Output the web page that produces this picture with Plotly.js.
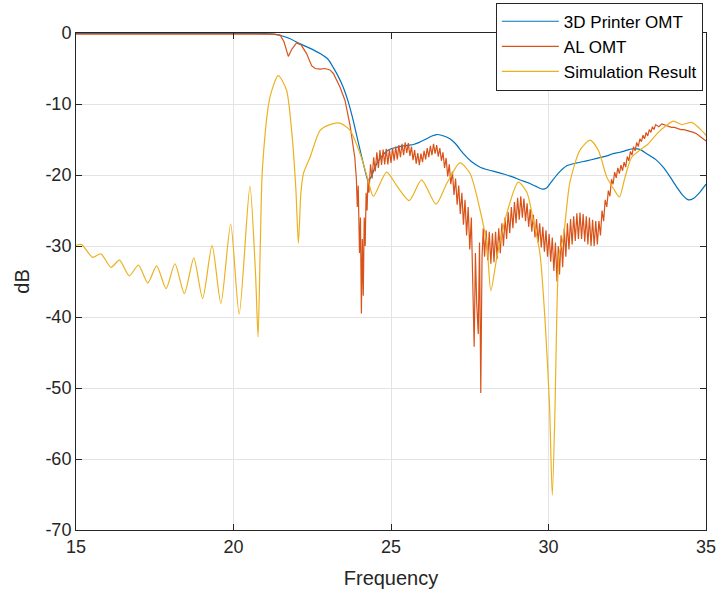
<!DOCTYPE html>
<html>
<head>
<meta charset="utf-8">
<script src="https://cdn.plot.ly/plotly-3.0.1.min.js"></script>
<style>
  html, body { margin: 0; padding: 0; background: #ffffff; }
  #chart { width: 719px; height: 594px; }
</style>
</head>
<body>
<div id="chart"></div>
<script>
// Measured return loss of the two OMT builds and the simulated response (dB vs frequency).
const seriesNames = ['3D Printer OMT', 'AL OMT', 'Simulation Result'];

const printerFreq = [15, 16, 17, 18, 19, 20, 20.5, 21, 21.3, 21.5, 21.8, 22.1, 22.4, 22.75, 23.0, 23.16, 23.3, 23.48, 23.65, 23.8, 23.95, 24.1, 24.2, 24.27, 24.39, 24.49, 24.65, 24.85, 25.0, 25.18, 25.4, 25.71, 25.9, 26.13, 26.3, 26.45, 26.6, 26.87, 27.05, 27.3, 27.55, 27.83, 28.1, 28.36, 28.6, 28.88, 29.1, 29.41, 29.6, 29.8, 29.95, 30.05, 30.3, 30.58, 30.9, 31.21, 31.5, 31.85, 32.05, 32.27, 32.5, 32.69, 32.9, 33.12, 33.4, 33.64, 33.85, 34.07, 34.25, 34.44, 34.6, 34.81, 35];
const printerDb = [-0.05, -0.05, -0.05, -0.05, -0.05, -0.05, -0.06, -0.1, -0.2, -0.35, -0.8, -1.5, -2.1, -2.9, -3.7, -4.8, -5.9, -7.6, -9.8, -12.3, -15.2, -18.0, -19.8, -20.8, -20.1, -18.9, -17.7, -16.7, -16.3, -16.1, -15.9, -15.7, -15.4, -14.9, -14.5, -14.3, -14.4, -14.9, -15.6, -17.0, -18.1, -18.9, -19.3, -19.6, -19.9, -20.3, -20.7, -21.2, -21.6, -22.0, -21.8, -21.2, -19.8, -18.7, -18.3, -18.0, -17.7, -17.3, -17.0, -16.8, -16.5, -16.3, -16.4, -17.0, -17.8, -18.9, -20.2, -21.7, -22.8, -23.5, -23.3, -22.4, -21.3];

const alFreq = [15, 17, 19, 20.5, 21.3, 21.48, 21.6, 21.74, 21.85, 22.0, 22.15, 22.32, 22.48, 22.59, 22.75, 22.9, 23.06, 23.17, 23.38, 23.54, 23.7, 23.8, 23.85, 23.9, 23.93, 23.96, 24.0, 24.03, 24.06, 24.09, 24.12, 24.15, 24.18, 24.21, 24.24, 24.27, 24.3, 24.35, 24.4, 24.45, 24.5,
  24.55, 24.6, 24.65, 24.7, 24.75, 24.8, 24.85, 24.9, 24.95, 25.0, 25.05, 25.1, 25.15, 25.2, 25.25, 25.3, 25.35, 25.4, 25.45, 25.5, 25.55, 25.6, 25.65, 25.7, 25.75, 25.8, 25.85, 25.9, 25.95, 26.0,
  26.05, 26.1, 26.15, 26.2, 26.25, 26.3, 26.35, 26.4, 26.45, 26.5, 26.55, 26.6, 26.65, 26.7, 26.75, 26.8, 26.85, 26.9, 26.95, 27.0, 27.05, 27.1, 27.15, 27.2, 27.25, 27.3, 27.35, 27.4, 27.45, 27.5, 27.55, 27.6,
  27.64, 27.68, 27.72, 27.77, 27.81, 27.85, 27.89, 27.93, 27.97, 28.02, 28.07, 28.12, 28.17, 28.22, 28.27, 28.32, 28.37, 28.42, 28.47, 28.52, 28.57, 28.62, 28.67, 28.72, 28.77, 28.82, 28.87, 28.92, 28.97,
  29.02, 29.07, 29.12, 29.17, 29.22, 29.27, 29.32, 29.37, 29.42, 29.47, 29.52, 29.57, 29.62, 29.67, 29.72, 29.77, 29.82, 29.87, 29.92, 29.97, 30.02, 30.07, 30.12, 30.17, 30.22, 30.27, 30.31, 30.35, 30.4, 30.45,
  30.5, 30.55, 30.6, 30.65, 30.7, 30.75, 30.8, 30.85, 30.9, 30.95, 31.0, 31.05, 31.1, 31.15, 31.2, 31.25, 31.3, 31.35, 31.4, 31.45, 31.5, 31.55, 31.6, 31.65, 31.7, 31.75, 31.8, 31.85, 31.9, 31.95,
  32.0, 32.05, 32.1, 32.15, 32.2, 32.25, 32.3, 32.35, 32.4, 32.45, 32.5, 32.55, 32.6, 32.65, 32.7, 32.75, 32.8, 32.85, 32.9, 32.95, 33.0, 33.05, 33.1, 33.15, 33.2, 33.25, 33.3, 33.35, 33.4,
  33.5, 33.6, 33.7, 33.8, 33.9, 34.0, 34.1, 34.2, 34.3, 34.4, 34.5, 34.6, 34.7, 34.8, 34.9, 35];
const alDb = [-0.15, -0.15, -0.15, -0.15, -0.15, -0.3, -1.2, -3.3, -2.3, -1.4, -1.7, -2.9, -4.6, -5.0, -5.1, -5.0, -5.2, -5.7, -7.6, -9.5, -13.0, -16.0, -17.5, -20.5, -24.5, -21.5, -31.0, -26.0, -39.5, -29.0, -37.0, -26.0, -30.0, -22.5, -25.0, -20.5, -22.5, -18.5, -20.5, -17.5, -19.5,
  -16.8, -19.0, -16.5, -18.6, -16.4, -18.5, -16.3, -18.5, -16.4, -18.3, -16.2, -18.0, -16.0, -17.8, -15.8, -17.5, -15.6, -17.2, -15.4, -16.9, -15.5, -17.3, -16.0, -17.9, -16.5, -18.4, -16.9, -18.6, -17.0, -18.2,
  -16.6, -17.8, -16.2, -17.5, -15.9, -17.2, -15.6, -17.0, -15.8, -17.4, -16.2, -18.0, -16.8, -19.0, -17.6, -20.2, -18.5, -21.3, -19.5, -22.8, -20.5, -24.2, -21.5, -25.5, -22.5, -27.0, -23.5, -28.5, -24.5, -30.5, -26.0, -36.0,
  -44.2, -31.0, -38.0, -42.4, -29.5, -50.7, -31.5, -27.5, -31.5, -27.8, -32.0, -28.0, -32.5, -28.2, -32.3, -28.0, -31.8, -27.5, -31.0, -26.8, -30.0, -26.0, -29.0, -25.2, -28.2, -24.5, -27.5, -23.8, -26.8,
  -23.2, -26.3, -23.0, -26.0, -23.3, -26.5, -24.0, -27.3, -24.8, -28.0, -25.6, -28.8, -26.2, -29.5, -26.8, -30.2, -27.3, -30.8, -27.8, -31.5, -28.3, -32.2, -28.8, -33.5, -29.5, -35.0, -30.0, -34.0, -28.5, -33.0,
  -27.5, -31.5, -26.8, -30.5, -26.2, -29.8, -25.8, -29.3, -25.4, -29.0, -25.3, -29.0, -25.5, -29.4, -25.8, -29.8, -26.0, -30.0, -26.3, -30.0, -26.5, -29.8, -26.5, -28.5, -25.0, -26.5, -23.5, -24.5, -22.2, -23.0,
  -20.6, -21.3, -19.6, -20.4, -19.0, -19.8, -18.6, -19.4, -18.2, -18.9, -17.4, -18.0, -16.7, -17.2, -16.0, -16.6, -15.4, -16.0, -14.9, -15.3, -14.4, -14.9, -14.0, -14.5, -13.6, -14.0, -13.2, -13.6, -12.9,
  -13.2, -12.8, -13.0, -13.1, -13.3, -13.3, -13.5, -13.6, -13.6, -13.7, -13.8, -14.0, -14.2, -14.5, -14.8, -15.2];

const simFreq = [15, 15.18, 15.53, 15.79, 16.11, 16.38, 16.69, 16.98, 17.28, 17.56, 17.86, 18.14, 18.44, 18.74, 19.02, 19.32, 19.6, 19.91, 20.18, 20.52, 20.7, 20.78, 20.85, 20.92, 21.16, 21.42, 21.68, 21.85, 21.98, 22.06, 22.14, 22.22, 22.43, 22.75, 23.06, 23.38, 23.7, 24.02, 24.28, 24.44, 24.86, 25.18, 25.58, 25.97, 26.43, 26.77, 27.19, 27.51, 27.83, 28.04, 28.17, 28.36, 28.67, 29.04, 29.31, 29.52, 29.73, 29.89, 30.03, 30.12, 30.21, 30.26, 30.34, 30.47, 30.68, 31.0, 31.32, 31.58, 31.85, 32.06, 32.25, 32.43, 32.64, 32.9, 33.17, 33.44, 33.75, 33.96, 34.23, 34.54, 34.81, 35];
const simDb = [-29.9, -29.8, -31.6, -31.1, -33.0, -32.0, -34.2, -32.7, -35.2, -32.8, -36.0, -32.5, -36.7, -31.7, -37.4, -29.9, -38.1, -26.9, -39.6, -21.6, -34.0, -42.8, -30.0, -19.0, -9.0, -6.0, -8.0, -14.0, -22.0, -29.6, -22.5, -19.8, -17.5, -13.7, -12.9, -12.7, -13.7, -17.0, -20.8, -23.0, -19.6, -21.5, -23.6, -20.7, -24.1, -21.2, -18.3, -19.8, -25.0, -29.7, -36.3, -31.6, -25.5, -21.0, -22.4, -26.4, -31.1, -40.5, -52.2, -65.1, -52.2, -40.5, -31.1, -28.8, -21.0, -16.5, -15.1, -16.5, -20.3, -21.9, -23.1, -20.3, -17.5, -16.5, -15.6, -14.2, -13.0, -12.4, -12.9, -12.6, -13.5, -14.4];

const xTicks = [15, 20, 25, 30, 35];
const yTicks = [0, -10, -20, -30, -40, -50, -60, -70];

const lineColors = ['#0072BD', '#D95319', '#EDB120'];

const traces = [
  { x: printerFreq, y: printerDb, name: seriesNames[0], type: 'scatter', mode: 'lines',
    line: { color: lineColors[0], width: 1.2, shape: 'spline', smoothing: 0.6 } },
  { x: alFreq, y: alDb, name: seriesNames[1], type: 'scatter', mode: 'lines',
    line: { color: lineColors[1], width: 1.2 } },
  { x: simFreq, y: simDb, name: seriesNames[2], type: 'scatter', mode: 'lines',
    line: { color: lineColors[2], width: 1.2, shape: 'spline', smoothing: 0.7 } }
];

const axisCommon = {
  showline: true, linecolor: '#262626', linewidth: 1, mirror: 'ticks',
  ticks: 'inside', ticklen: 6, tickcolor: '#262626', tickwidth: 1,
  showgrid: true, gridcolor: '#e3e3e3', gridwidth: 1, zeroline: false,
  tickfont: { family: 'Liberation Sans, Arial, sans-serif', size: 18, color: '#262626' }
};

const layout = {
  width: 719, height: 594,
  margin: { l: 76, r: 13, t: 33, b: 64, pad: 0, autoexpand: false },
  paper_bgcolor: '#ffffff', plot_bgcolor: '#ffffff',
  showlegend: true,
  xaxis: Object.assign({}, axisCommon, {
    range: [15, 35], tickvals: xTicks, ticktext: xTicks.map(String),
    title: { text: 'Frequency', standoff: 15,
      font: { family: 'Liberation Sans, Arial, sans-serif', size: 20, color: '#262626' } }
  }),
  yaxis: Object.assign({}, axisCommon, {
    range: [-70, 0], tickvals: yTicks, ticktext: yTicks.map(String),
    title: { text: 'dB', standoff: 10,
      font: { family: 'Liberation Sans, Arial, sans-serif', size: 20, color: '#262626' } }
  }),
  legend: {
    x: 0.995, xanchor: 'right', y: 1.061, yanchor: 'top',
    bgcolor: '#ffffff', bordercolor: '#262626', borderwidth: 1,
    font: { family: 'Liberation Sans, Arial, sans-serif', size: 17, color: '#000000' },
    itemwidth: 57, tracegroupgap: 0
  }
};

Plotly.newPlot('chart', traces, layout, { staticPlot: true, displayModeBar: false });
</script>
</body>
</html>
